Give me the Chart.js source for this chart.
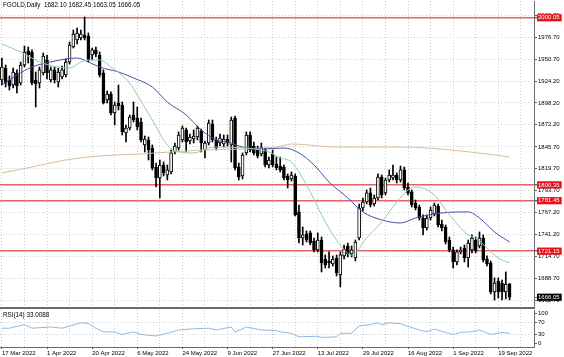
<!DOCTYPE html>
<html><head><meta charset="utf-8">
<script src="https://cdn.jsdelivr.net/npm/chart.js@4.4.1/dist/chart.umd.min.js"></script>
<style>
html,body{margin:0;padding:0;background:#fff;}
#wrap{position:relative;width:564px;height:357px;overflow:hidden;background:#fff;}
#main{position:absolute;left:0;top:0;}
#rsi{position:absolute;left:0;top:310px;}
.lbl{position:absolute;font-family:'Liberation Sans',Arial,sans-serif;font-size:6.3px;color:#000;white-space:pre;line-height:1;}
</style></head><body>
<div id="wrap">
<canvas id="main" width="564" height="310"></canvas>
<canvas id="rsi" width="564" height="47"></canvas>
<div class="lbl" style="left:3px;top:2px">FGOLD,Daily  1682.10 1682.45 1663.05 1666.05</div>
<div class="lbl" style="left:3px;top:312px">RSI(14) 33.0088</div>
</div>
<script>
// ---- data (daily bars, index 0 = 17 Mar 2022) ----
const opens = [1925.7,1940.0,1925.7,1919.7,1934.1,1922.1,1943.6,1960.4,1959.2,1925.7,
1922.1,1934.1,1949.6,1925.7,1937.7,1923.3,1929.3,1931.7,1947.2,1965.1,
1973.5,1975.9,1979.5,1978.3,1955.6,1961.6,1955.6,1934.1,1901.8,1909.0,
1886.3,1898.2,1895.8,1862.4,1868.3,1883.9,1880.3,1875.5,1848.0,1854.0,
1844.4,1821.7,1808.6,1824.1,1812.2,1815.8,1839.7,1844.4,1854.0,1866.0,
1852.8,1855.2,1857.6,1864.8,1842.0,1850.4,1873.1,1854.0,1850.4,1849.2,
1855.2,1848.0,1880.3,1821.7,1811.0,1838.5,1860.0,1846.8,1842.0,1837.3,
1842.0,1824.1,1837.3,1825.3,1822.9,1821.7,1811.0,1807.4,1811.0,1768.0,
1736.9,1741.7,1742.9,1733.3,1722.6,1734.5,1711.8,1709.4,1705.8,1713.0,
1692.7,1715.4,1727.3,1717.8,1713.0,1736.9,1772.7,1779.9,1790.7,1777.5,
1784.7,1809.8,1790.7,1806.2,1808.6,1812.2,1806.2,1818.2,1797.8,1791.9,
1778.7,1773.9,1760.8,1748.8,1760.8,1765.6,1775.1,1753.6,1750.0,1734.5,
1722.6,1708.2,1720.2,1724.9,1713.0,1722.6,1734.5,1727.3,1736.9,1711.8,
1707.0,1672.4,1685.5,1683.1,1672.4,1682.10];
const highs = [1952.0,1943.6,1930.5,1940.0,1937.7,1947.2,1966.3,1965.1,1961.6,1935.3,
1941.2,1958.0,1955.6,1941.2,1941.2,1940.0,1942.4,1950.8,1971.1,1985.4,
1987.8,1985.4,2001.0,1981.9,1963.9,1965.1,1959.2,1937.7,1912.6,1911.4,
1899.4,1919.7,1899.4,1871.9,1883.9,1899.4,1893.4,1880.3,1858.8,1857.6,
1848.0,1826.5,1830.1,1827.7,1824.1,1842.0,1850.4,1863.6,1870.7,1868.3,
1861.2,1866.0,1870.7,1867.1,1852.8,1877.9,1877.9,1857.6,1861.2,1860.0,
1860.0,1881.5,1882.7,1826.5,1838.5,1863.6,1863.6,1851.6,1846.8,1850.4,
1844.4,1833.7,1842.0,1833.7,1833.7,1824.1,1813.4,1815.8,1813.4,1776.3,
1750.0,1745.3,1745.3,1736.9,1742.9,1738.1,1716.6,1720.2,1715.4,1716.6,
1720.2,1728.5,1730.9,1727.3,1734.5,1777.5,1784.7,1794.3,1796.6,1788.3,
1813.4,1812.2,1808.6,1818.2,1824.1,1814.6,1822.9,1821.7,1802.6,1794.3,
1782.3,1776.3,1764.4,1764.4,1773.9,1778.7,1777.5,1758.4,1752.4,1738.1,
1726.1,1722.6,1726.1,1728.5,1734.5,1740.5,1738.1,1744.1,1740.5,1715.4,
1709.4,1689.1,1689.1,1686.7,1696.3,1682.45];
const lows = [1919.7,1917.3,1913.7,1916.1,1910.2,1919.7,1941.2,1946.0,1919.7,1893.4,
1916.1,1931.7,1926.9,1923.3,1922.1,1917.3,1926.9,1929.3,1944.8,1963.9,
1968.7,1973.5,1973.5,1947.2,1949.6,1953.2,1929.3,1897.0,1898.2,1883.9,
1871.9,1889.9,1860.0,1851.6,1866.0,1875.5,1866.0,1851.6,1839.7,1830.1,
1818.2,1797.8,1784.7,1811.0,1806.2,1813.4,1837.3,1842.0,1851.6,1839.7,
1849.2,1850.4,1854.0,1839.7,1832.5,1848.0,1851.6,1842.0,1846.8,1845.6,
1846.8,1827.7,1818.2,1806.2,1807.4,1836.1,1839.7,1836.1,1832.5,1834.9,
1821.7,1820.5,1821.7,1818.2,1815.8,1806.2,1796.6,1805.0,1763.2,1730.9,
1728.5,1732.1,1728.5,1720.2,1720.2,1696.3,1701.0,1701.0,1703.4,1691.5,
1678.3,1711.8,1714.2,1714.2,1709.4,1734.5,1769.2,1777.5,1773.9,1775.1,
1782.3,1784.7,1788.3,1803.8,1806.2,1802.6,1803.8,1794.3,1788.3,1773.9,
1770.3,1758.4,1740.5,1746.5,1758.4,1763.2,1750.0,1745.3,1729.7,1720.2,
1701.0,1704.6,1717.8,1708.2,1702.2,1719.0,1719.0,1724.9,1708.2,1703.4,
1670.0,1662.8,1665.2,1662.8,1664.0,1663.05];
const closes = [1941.2,1922.1,1918.5,1935.3,1918.5,1943.6,1959.2,1955.6,1922.1,1920.9,
1937.7,1954.4,1934.1,1937.7,1925.7,1935.3,1937.7,1947.2,1967.5,1980.7,
1981.9,1980.7,1975.9,1949.6,1961.6,1956.8,1931.7,1898.2,1909.0,1886.3,
1895.8,1894.6,1863.6,1868.3,1881.5,1877.9,1869.5,1854.0,1855.2,1842.0,
1820.5,1808.6,1824.1,1814.6,1818.2,1838.5,1846.8,1860.0,1868.3,1851.6,
1857.6,1858.8,1868.3,1850.4,1850.4,1874.3,1854.0,1844.4,1856.4,1855.2,
1850.4,1877.9,1820.5,1809.8,1836.1,1860.0,1842.0,1838.5,1834.9,1845.6,
1824.1,1830.1,1824.1,1820.5,1818.2,1808.6,1806.2,1812.2,1764.4,1736.9,
1740.5,1734.5,1730.9,1722.6,1734.5,1707.0,1704.6,1707.0,1711.8,1695.1,
1716.6,1723.7,1717.8,1722.6,1732.1,1772.7,1779.9,1790.7,1776.3,1784.7,
1809.8,1788.3,1806.2,1812.2,1812.2,1806.2,1818.2,1796.6,1790.7,1776.3,
1772.7,1760.8,1748.8,1760.8,1770.3,1776.3,1752.4,1748.8,1732.1,1722.6,
1708.2,1720.2,1722.6,1713.0,1730.9,1736.9,1721.4,1736.9,1710.6,1705.8,
1672.4,1683.1,1672.4,1672.4,1681.9,1666.05];

// moving averages read at bar indices
const maFastIdx = [0,5,10,15,18,21,23,26,29,34,36,40,44,47,51,55,58,65,69,71,74,77,82,86,90,93,97,101,105,108,110,115,119,124,126,129,132,135];
const maFastVal = [1968.7,1959.2,1947.2,1941.2,1940.0,1947.2,1949.6,1949.6,1941.2,1922.1,1907.8,1877.9,1848.0,1839.7,1838.5,1844.4,1845.6,1844.4,1842.0,1839.7,1832.5,1827.7,1791.9,1756.0,1728.5,1716.6,1736.9,1756.0,1779.9,1794.3,1797.8,1788.3,1764.4,1740.5,1736.9,1724.9,1713.0,1707.0];
const maMidIdx = [0,4,8,13,17,20,23,26,31,35,40,44,49,53,57,60,64,69,75,79,83,87,92,96,101,106,110,117,124,127,131,135];
const maMidVal = [1919.7,1931.7,1941.2,1947.2,1950.8,1952.0,1947.2,1941.2,1935.3,1928.1,1917.3,1899.4,1883.9,1866.0,1854.0,1851.6,1845.6,1843.2,1844.4,1838.5,1824.1,1803.8,1784.7,1768.0,1758.4,1754.8,1760.8,1766.8,1768.0,1760.8,1744.1,1732.1];
const maSlowIdx = [0,8,17,26,37,53,73,77,89,98,106,122,135];
const maSlowVal = [1814.6,1821.7,1830.1,1834.9,1837.3,1842.0,1845.6,1849.2,1845.6,1845.6,1845.6,1840.9,1833.7];

// RSI(14) read at bar indices
const rsiIdx = [0,2,6,8,13,16,21,23,25,27,30,32,35,37,41,44,47,51,55,57,61,62,65,69,73,74,77,79,84,85,89,90,93,95,98,100,101,103,106,108,111,113,115,118,120,122,125,127,130,133,135];
const rsiVal = [50,50,62,50,54,50,68,66,50,38,37,29,38,29,24,33,44,48,50,44,54,37,54,44,42,38,33,21,23,19,21,33,33,58,62,68,62,68,65,56,44,38,47,36,29,36,38,44,29,36,33.0088];

// axis labels
const dateTicks = ['17 Mar 2022','1 Apr 2022','20 Apr 2022','6 May 2022','24 May 2022','9 Jun 2022','27 Jun 2022','13 Jul 2022','29 Jul 2022','16 Aug 2022','1 Sep 2022','19 Sep 2022'];
const priceGrid = [2002.70,1976.70,1950.70,1924.20,1898.20,1872.20,1845.70,1819.70,1793.70,1767.20,1741.20,1714.70,1688.70,1662.70];
const levelPrices = [2000.05,1800.35,1781.45,1721.15];
const lastPrice = 1666.05;
const rsiTicks = [100,70,30,0];

// ---- chart ----
const FONT = "'Liberation Sans', Arial, sans-serif";
Chart.defaults.font.family = FONT;
Chart.defaults.font.size = 6;
Chart.defaults.color = '#000';

const X_MIN = -0.5, X_MAX = 141.5;
const Y_MIN = 1653.2, Y_MAX = 2020.1;
const gridBars = []; for (let v = 0; v <= 138; v += 6) gridBars.push(v);
const idx = opens.map((_, i) => i);
const isLevel = v => levelPrices.includes(v);
const GRID = '#cfcfcf';
const AXIS = '#6a6a6a';
const pts = (xs, ys) => xs.map((x, k) => ({x, y: ys[k]}));

new Chart(document.getElementById('main'), {
  type: 'bar',
  data: { datasets: [
    { type:'line', label:'MA fast', data: pts(maFastIdx, maFastVal), borderColor:'#8ccfa6', borderWidth:1, pointRadius:0, cubicInterpolationMode:'monotone', order:0 },
    { type:'line', label:'MA mid', data: pts(maMidIdx, maMidVal), borderColor:'#4c4ca8', borderWidth:1, pointRadius:0, cubicInterpolationMode:'monotone', order:0 },
    { type:'line', label:'MA slow', data: pts(maSlowIdx, maSlowVal), borderColor:'#dcbc9c', borderWidth:1, pointRadius:0, cubicInterpolationMode:'monotone', order:0 },
    { label:'body', data: idx.map(i => ({x:i, y:[opens[i], closes[i]]})),
      backgroundColor: c => (c.type === 'data' && closes[c.dataIndex] >= opens[c.dataIndex]) ? '#ffffff' : '#000000',
      borderColor:'#000', borderWidth:1, borderSkipped:false, barThickness:3, grouped:false, minBarLength:1, order:5 },
    { label:'wick', data: idx.map(i => ({x:i, y:[lows[i], highs[i]]})), backgroundColor:'#000', barThickness:1, grouped:false, order:6 }
  ]},
  options: {
    responsive:false, animation:false, events:[],
    layout:{padding:{top:1, bottom:2, left:0, right:0}},
    plugins:{legend:{display:false}, tooltip:{enabled:false}},
    scales:{
      x:{ type:'linear', min:X_MIN, max:X_MAX, offset:false,
          afterBuildTicks: s => { s.ticks = gridBars.map(v => ({value:v})); },
          afterFit: s => { s.height = 0; s.paddingLeft = 0; s.paddingRight = 0; },
          ticks:{display:false},
          grid:{offset:false, color:GRID, drawTicks:false, lineWidth:1},
          border:{display:true, color:AXIS, width:2, dash:[1,2]} },
      y:{ type:'linear', position:'right', min:Y_MIN, max:Y_MAX,
          afterBuildTicks: s => { s.ticks = [...priceGrid, lastPrice, ...levelPrices].map(v => ({value:v})); },
          afterFit: s => { s.width = 30; s.paddingTop = 0; s.paddingBottom = 0; },
          ticks:{ autoSkip:false, padding:1, callback: v => Number(v).toFixed(2),
            color: c => (c.tick && (isLevel(c.tick.value) || c.tick.value === lastPrice)) ? '#fff' : '#000',
            showLabelBackdrop: c => !!(c.tick && (isLevel(c.tick.value) || c.tick.value === lastPrice)),
            backdropColor: c => (c.tick && c.tick.value === lastPrice) ? '#000' : '#e8101a',
            backdropPadding:{top:0, bottom:0, left:1, right:2} },
          grid:{ color: c => !c.tick ? GRID : isLevel(c.tick.value) ? '#e36464' : (c.tick.value === lastPrice ? 'rgba(0,0,0,0)' : GRID),
                 lineWidth: c => (c.tick && isLevel(c.tick.value)) ? 1.5 : 1,
                 tickLength:3, tickColor:'#666' },
          border:{ display:true, color:AXIS, width:1, dash: c => (c.tick && isLevel(c.tick.value)) ? [] : [1,2] } }
    }
  }
});

new Chart(document.getElementById('rsi'), {
  type:'line',
  data:{ datasets:[{ label:'RSI(14)', data: pts(rsiIdx, rsiVal), borderColor:'#8db9e2', borderWidth:1, pointRadius:0 }]},
  options:{
    responsive:false, animation:false, events:[],
    layout:{padding:{top:0, bottom:0, left:0, right:0}},
    plugins:{legend:{display:false}, tooltip:{enabled:false}},
    scales:{
      x:{ type:'linear', min:X_MIN, max:X_MAX, offset:false,
          afterBuildTicks: s => { s.ticks = gridBars.map(v => ({value:v})); },
          afterFit: s => { s.height = 10; s.paddingLeft = 0; s.paddingRight = 0; },
          ticks:{ autoSkip:false, maxRotation:0, minRotation:0, align:'start', padding:1,
                  callback: v => (v % 12 === 0 && dateTicks[v / 12]) ? dateTicks[v / 12] : '' },
          grid:{ offset:false, color:GRID, tickLength:2,
                 tickColor: c => (c.tick && c.tick.value % 12 === 0) ? '#555' : 'rgba(0,0,0,0)' },
          border:{ display:true, color:AXIS, width:1, dash:[1,2] } },
      y:{ type:'linear', position:'right', min:-13, max:111,
          afterBuildTicks: s => { s.ticks = rsiTicks.map(v => ({value:v})); },
          afterFit: s => { s.width = 30; s.paddingTop = 0; s.paddingBottom = 0; },
          ticks:{ autoSkip:false, padding:1, callback: v => String(v) },
          grid:{ color: c => (c.tick && (c.tick.value === 30 || c.tick.value === 70)) ? GRID : 'rgba(0,0,0,0)',
                 tickLength:3, tickColor:'#666' },
          border:{ display:true, color:AXIS, width:1, dash:[1,2] } }
    }
  }
});
</script>
</body></html>
